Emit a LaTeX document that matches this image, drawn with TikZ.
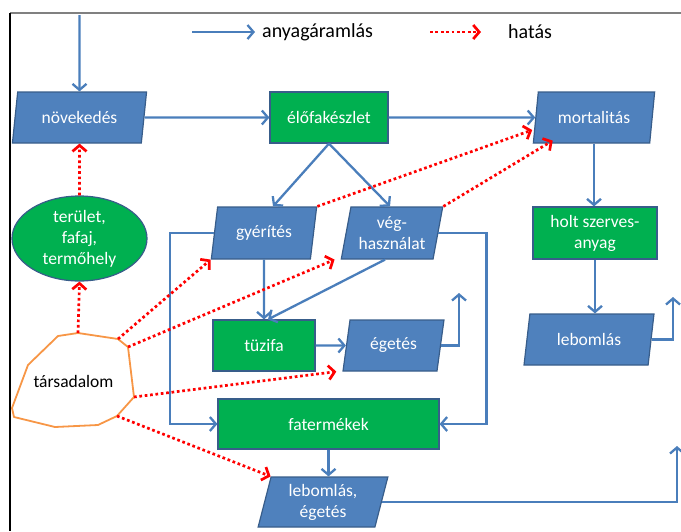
\documentclass[tikz,border=0pt]{standalone}
\usepackage{fontspec}
\setmainfont{Carlito}
\usetikzlibrary{arrows.meta,shapes.geometric}

\definecolor{flowblue}{HTML}{4A7EBB}
\definecolor{boxblue}{HTML}{4F81BD}
\definecolor{edgeblue}{HTML}{385D8A}
\definecolor{boxgreen}{HTML}{00B050}
\definecolor{socorange}{HTML}{F79646}
\newcommand{\boxfont}{\fontsize{17.5}{21}\selectfont}

\begin{document}
\begin{tikzpicture}[
    x=1pt, y=-1pt,
    flow/.style={-{Straight Barb[length=6pt,width=14pt]}, line width=2.3pt, draw=flowblue},
    hat/.style={-{Straight Barb[length=6pt,width=14pt]}, line width=2.7pt, draw=red,
        dash pattern=on 2.7pt off 2.7pt},
    proc/.style={trapezium, trapezium left angle=77, trapezium right angle=103,
        trapezium stretches=true, draw=edgeblue, fill=boxblue, line width=1.2pt,
        text=white, align=center, inner sep=1pt, font=\boxfont},
    pool/.style={rectangle, draw=edgeblue, fill=boxgreen, line width=1.2pt,
        text=white, align=center, inner sep=1pt, font=\boxfont},
    lgd/.style={font=\fontsize{20}{24}\selectfont, anchor=west, inner sep=0pt}
]
\useasboundingbox (0,0) rectangle (681,531);
% Frame
\draw[gray, line width=1.2pt] (10,13) -- (681,13);
\draw[black, line width=1.2pt] (10,13) -- (10,531);
% Legend
\node[lgd] (lgflow) at (262,32) {anyagáramlás};
\node[lgd] (lghat)  at (508,32) {hatás};
\coordinate (lgflow0) at (192,32);
\coordinate (lghat0)  at (430,32);
\draw[flow] (lgflow0) -- ([xshift=-7pt]lgflow.west);
\draw[hat]  (lghat0)  -- ([xshift=-27pt]lghat.west);
% Stock and growth
\node[proc, minimum width=135pt, minimum height=51pt] (nov)  at (79.5,117.5) {növekedés};
\node[pool, minimum width=118pt, minimum height=51pt] (elo)  at (329,117.5)  {élőfakészlet};
\node[proc, minimum width=122pt, minimum height=51pt] (mort) at (594,117.5)  {mortalitás};
\node[ellipse, draw=edgeblue, fill=boxgreen, line width=1.2pt, text=white, align=center,
    inner sep=0pt, font=\boxfont, minimum width=135pt, minimum height=85pt]
    (ter) at (79.5,238.5) {terület,\\fafaj,\\termőhely};
\coordinate (src) at (79.5,15);
\draw[flow] (src) -- (nov.north);
\draw[flow] (nov.east) -- (elo.west);
\draw[flow] (elo.east) -- (mort.west);
% Harvest
\node[proc, minimum width=106pt, minimum height=52pt] (gyer) at (264,233) {gyérítés};
\node[proc, minimum width=102pt, minimum height=52pt] (veg)  at (392,233) {vég-\\használat};
\draw[flow] (elo.south) -- ([xshift=9pt]gyer.north);
\draw[flow] (elo.south) -- ([xshift=-2pt]veg.north);
% Fuelwood and products
\node[pool, minimum width=102pt, minimum height=51pt] (tuz)   at (264,345.5)   {tüzifa};
\node[proc, minimum width=101pt, minimum height=51pt] (eget)  at (393.5,345.5) {égetés};
\node[pool, minimum width=221pt, minimum height=50pt] (fat)   at (328.5,424)   {fatermékek};
\node[proc, minimum width=130pt, minimum height=50pt] (lebeg) at (323,502)     {lebomlás,\\égetés};
\draw[flow] (gyer.south) -- (tuz.north);
\draw[flow] ([xshift=-7pt]veg.south) -- ([xshift=4pt]tuz.north);
\draw[flow] (tuz.east) -- (eget.west);
\draw[flow] (gyer.west) -- ++(-44,0) |- (fat.west);
\draw[flow] (veg.east) -- ++(48,0) |- (fat.east);
\draw[flow] (fat.south) -- (fat.south |- lebeg.north);
\coordinate (egetout)  at (459,293);
\coordinate (lebegout) at (677,446);
\draw[flow] (eget.east) -| (egetout);
\draw[flow] (lebeg.east) -| (lebegout);
% Dead matter
\node[pool, minimum width=124pt, minimum height=52pt] (holt)  at (595,233)   {holt szerves-\\anyag};
\node[proc, minimum width=130pt, minimum height=51pt] (lebom) at (589,339.5) {lebomlás};
\coordinate (lebomout) at (673,297);
\draw[flow] (mort.south) -- (mort.south |- holt.north);
\draw[flow] (holt.south) -- (holt.south |- lebom.north);
\draw[flow] (lebom.east) -| (lebomout);
% Society
\coordinate (t1)  at (78,333);
\coordinate (t2)  at (118,339);
\coordinate (t3)  at (128,347);
\coordinate (t4)  at (134,397);
\coordinate (t5)  at (117,416);
\coordinate (t6)  at (98,425);
\coordinate (t7)  at (55,427);
\coordinate (t8)  at (14,417);
\coordinate (t9)  at (12,408);
\coordinate (t10) at (28,365);
\coordinate (t11) at (58,336);
\draw[socorange, line width=1.8pt, line join=round]
    (t1) -- (t2) -- (t3) -- (t4) -- (t5) -- (t6) -- (t7) -- (t8) -- (t9) -- (t10) -- (t11) -- cycle;
\node[font=\boxfont] (tars) at (73.5,381) {társadalom};
% Influences
\draw[hat] (ter.north) -- (nov.south);
\draw[hat] (t1) -- (ter.south);
\draw[hat] (t2) -- (gyer.bottom left corner);
\draw[hat] (t3) -- ([xshift=-6pt]veg.bottom left corner);
\draw[hat] (t4) -- ([xshift=-6pt]eget.bottom left corner);
\draw[hat] (t5) -- (lebeg.top left corner);
\draw[hat] (gyer.top right corner) -- ([xshift=-3pt,yshift=-12.5pt]mort.west);
\draw[hat] (veg.top right corner) -- ([xshift=20pt,yshift=3pt]mort.bottom left corner);
\end{tikzpicture}
\end{document}
